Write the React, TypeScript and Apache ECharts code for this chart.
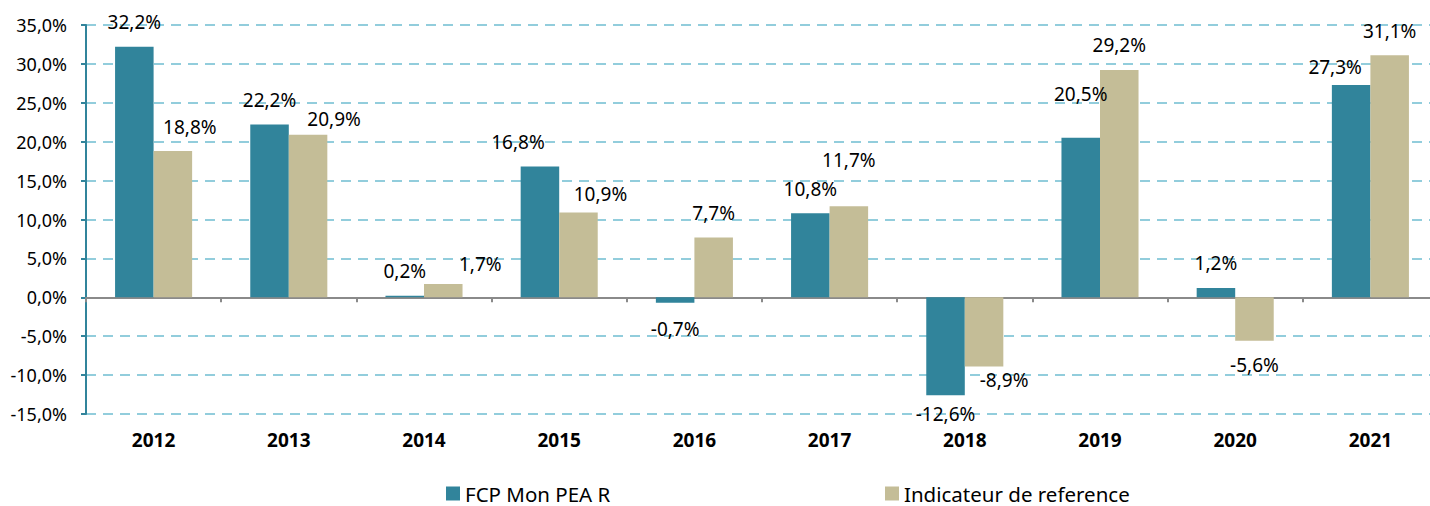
import React, { useEffect, useRef } from "react";
import * as echarts from "echarts";

const years = ["2012", "2013", "2014", "2015", "2016", "2017", "2018", "2019", "2020", "2021"];
const fcpName = "FCP Mon PEA R";
const refName = "Indicateur de reference";
const fcpValues = [32.2, 22.2, 0.2, 16.8, -0.7, 10.8, -12.6, 20.5, 1.2, 27.3];
const refValues = [18.8, 20.9, 1.7, 10.9, 7.7, 11.7, -8.9, 29.2, -5.6, 31.1];

// label nudges (px) reproducing the manually placed labels of the original
const fcpLabelOffset = [[0, 0], [0, 0], [0, 0], [-22, 0], [0, 2], [0, 0], [0, -6], [0, -19], [0, 0], [-16, 7]];
const refLabelOffset = [[17, 0], [26, 9], [37, 4], [22, 6], [0, 0], [0, -22], [20, -11], [0, -1], [0, 0], [0, 0]];

const FONT = "'Noto Sans', sans-serif";
const fmt = (v: number) => v.toFixed(1).replace(".", ",") + "%";

export default function App() {
  const ref = useRef<HTMLDivElement>(null);
  useEffect(() => {
    if (!ref.current) return;
    const chart = echarts.init(ref.current, null, { renderer: "svg" });
    const mk = (vals: number[], offs: number[][]) =>
      vals.map((v, i) => ({
        value: v,
        label: { position: v < 0 ? "bottom" : "top", offset: offs[i] },
      }));
    const labelBase = {
      show: true,
      distance: 15,
      fontFamily: FONT,
      fontSize: 19,
      color: "#000",
      formatter: (p: any) => fmt(p.value),
    };
    const legendText = { fontFamily: FONT, fontSize: 20.5, color: "#000" };
    chart.setOption({
      animation: false,
      textStyle: { fontFamily: FONT },
      grid: {
        left: 86,
        top: 25,
        bottom: 92,
        width: 1352,
        containLabel: false,
        outerBoundsMode: "none",
      },
      legend: [
        {
          data: [fcpName],
          left: 441,
          top: 478,
          icon: "rect",
          itemWidth: 14,
          itemHeight: 14,
          textStyle: legendText,
        },
        {
          data: [refName],
          left: 880,
          top: 478,
          icon: "rect",
          itemWidth: 14,
          itemHeight: 14,
          textStyle: legendText,
        },
      ],
      xAxis: [
        {
          type: "category",
          data: years,
          position: "bottom",
          axisLine: { onZero: true, lineStyle: { color: "#8a8a8a", width: 2 } },
          axisTick: { show: true, length: 5, lineStyle: { color: "#8a8a8a", width: 2 } },
          axisLabel: { show: false },
          splitLine: { show: false },
        },
        {
          type: "category",
          data: years,
          position: "bottom",
          axisLine: { show: false, onZero: false },
          axisTick: { show: false },
          axisLabel: {
            show: true,
            margin: 16,
            fontFamily: FONT,
            fontSize: 19,
            fontWeight: "bold",
            color: "#000",
          },
          splitLine: { show: false },
        },
      ],
      yAxis: {
        type: "value",
        min: -15,
        max: 35,
        interval: 5,
        axisLine: { show: true, lineStyle: { color: "#31849B", width: 2 } },
        axisTick: { show: true, length: 5, lineStyle: { color: "#31849B", width: 2 } },
        axisLabel: {
          margin: 19,
          fontFamily: FONT,
          fontSize: 18,
          color: "#000",
          formatter: (v: number) => fmt(v),
        },
        splitLine: {
          show: true,
          lineStyle: { color: "#92CDDC", width: 2, type: [10, 7] },
        },
      },
      series: [
        {
          name: fcpName,
          type: "bar",
          xAxisIndex: 0,
          data: mk(fcpValues, fcpLabelOffset),
          itemStyle: { color: "#31849B" },
          barGap: "0%",
          barCategoryGap: "43%",
          label: labelBase,
        },
        {
          name: refName,
          type: "bar",
          xAxisIndex: 0,
          data: mk(refValues, refLabelOffset),
          itemStyle: { color: "#C4BD97" },
          barGap: "0%",
          barCategoryGap: "43%",
          label: labelBase,
        },
      ],
    });
    return () => chart.dispose();
  }, []);
  return (
    <div
      ref={ref}
      style={{ position: "fixed", left: 0, top: 0, width: 1430, height: 506, background: "#fff" }}
    />
  );
}
